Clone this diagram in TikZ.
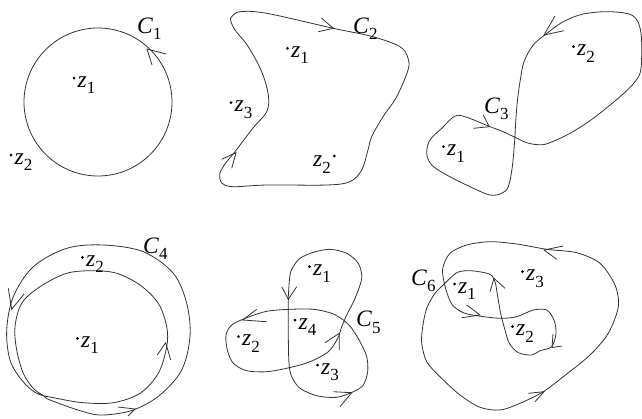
\documentclass[tikz,border=0pt]{standalone}
\usepackage{fontspec}
\setmainfont{Liberation Serif}
\newcommand{\sub}[2]{\textit{#1}\raisebox{-0.28em}{\fontsize{17}{18}\selectfont #2}}
\tikzset{
  curve/.style={draw=black!80, line width=0.8pt, line join=round},
  tipv/.style={draw=black!80, line width=0.8pt},
  lbl/.style={anchor=base west, inner sep=0pt, font=\fontsize{23.5}{25}\selectfont},
  pt/.style={fill=black, draw=none}
}
\newcommand{\arrv}[3]{\draw[tipv] #2 -- #1 -- #3;}
\newcommand{\zpt}[3]{\fill[pt] (#1,#2) circle (1.5);
  \node[lbl] at (#1+3.5,#2+9) {\sub{z}{#3}};}
\begin{document}
\begin{tikzpicture}[x=1pt,y=-1pt]
\useasboundingbox (0,0) rectangle (642,418);
% ---------- Panel 1
\draw[curve] (98,102) circle (74);
\arrv{(147,49)}{(166,54)}{(152,65)}
\node[lbl] (c1) at (137,33) {\sub{C}{1}};
\zpt{74}{78}{1}
\zpt{11}{155}{2}
% ---------- Panel 2
\draw[curve] plot[smooth cycle, tension=0.55] coordinates {
 (231.7,16.7) (240,11.7) (266.7,13.3) (333.3,28.3) (373,36.7) (400,46.7)
 (408,58) (408,70) (396.7,96.7) (383,116.7) (371.7,136.7) (368,150)
 (361.7,170) (350,181.7) (326.7,185) (266.7,185) (233,186.7) (221.7,183)
 (220,173) (226.7,161.7) (235,151.7) (253,128) (266.7,111.7) (268.3,95)
 (261.7,71.7) (248.3,46.7) (235,30) (230.7,20.7)};
\arrv{(333.3,28.3)}{(321.7,18.3)}{(318.3,31.7)}
\arrv{(236,152.7)}{(221.7,159.3)}{(231.7,168.3)}
\node[lbl] (c2) at (353,33) {\sub{C}{2}};
\zpt{287.5}{48.3}{1}
\zpt{231}{102.7}{3}
\node[lbl] (z22) at (313,166.7) {\sub{z}{2}};
\fill[pt] (334.3,156) circle (1.5);
% ---------- Panel 3
\draw[curve] plot[smooth cycle, tension=0.55] coordinates {
 (488.3,126) (503.3,131.7) (515,137.3) (526.7,142.7) (538.3,144.7) (548.3,143.3)
 (570,133.3) (593.3,118.3) (620,96.7) (635,81.7) (641,68.3) (641,33.3)
 (633.3,16) (610,11.7) (583.3,14) (563.3,21.7) (546,34) (533.3,45)
 (524,61.7) (520,81.7) (517.3,101.7) (515.7,121.7) (514.7,140) (512.3,166.7)
 (508.3,186.7) (501.7,193.3) (490,195) (470,186.7) (446.7,175) (431.7,165)
 (426.7,153.3) (430,140) (441.7,128.3) (455,116) (466.7,117.3)};
\arrv{(544,35)}{(555,16)}{(564,30.7)}
\arrv{(489.3,126.7)}{(483.3,115)}{(473.3,128.3)}
\node[lbl] (c3) at (484,113.3) {\sub{C}{3}};
\zpt{573.5}{46.7}{2}
\zpt{443.5}{146.7}{1}
% ---------- Panel 4
\draw[curve] plot[smooth cycle, tension=0.55] coordinates {
 (50,400) (83.3,411.7) (103.3,415) (133.3,410) (160,395) (181.7,370)
 (190,336.7) (186.7,303.3) (173.3,273.3) (143.3,251.7) (103.3,245) (66.7,248.3)
 (33.3,266.7) (13.3,296.7) (6.7,330) (10,360) (21.7,380) (36.7,393.3)
 (56.7,398.3) (83.3,402.7) (113.3,402.7) (140,393.3) (158.3,373.3) (166.7,346.7)
 (166.7,326.7) (158.3,303.3) (140,285) (116.7,273.3) (93.3,270.7) (66.7,273.3)
 (40,286.7) (21.7,303.3) (15,326.7) (16.7,350) (23.3,373.3) (33.3,388.3)
 (44,396)};
\arrv{(11.7,309.3)}{(8.3,288.3)}{(24,294)}
\arrv{(135,409)}{(118,407)}{(128,416)}
\arrv{(165.7,342.7)}{(157.3,355)}{(170.7,360)}
\node[lbl] (c4) at (143,253.3) {\sub{C}{4}};
\zpt{82.5}{257.3}{2}
\zpt{77.5}{338.3}{1}
% ---------- Panel 5
\draw[curve] plot[smooth cycle, tension=0.5] coordinates {
 (290,275) (288.3,296.7) (288.3,310) (288.3,336.7) (289,363.3) (291.7,376.7)
 (300,388.3) (316.7,395.7) (336.7,397.3) (353.3,391.7) (363.3,385) (367.7,371.7)
 (366.7,356.7) (360,341.7) (351.7,328.3) (343.3,320) (331.7,313.3) (313.3,309.3)
 (290,309.3) (266.7,311.3) (246.7,317.7) (231.7,325) (226,335) (227.3,350)
 (233.3,363.3) (246.7,370.7) (266.7,371.7) (289.3,367.7) (310,361.7) (328.3,351.7)
 (337.7,338.3) (341.7,326.7) (346.7,315) (355,298.3) (361.7,278.3) (358.3,263.3)
 (346.7,253.3) (330,249.3) (313.3,252.3) (300,258.3) (293.3,266.7)};
\arrv{(288.3,299.3)}{(281.7,286.7)}{(296.7,286.7)}
\arrv{(242.7,320)}{(256.7,309.3)}{(266.7,321.7)}
\arrv{(339.3,333.3)}{(325,342.7)}{(339.3,350)}
\arrv{(351.7,392.7)}{(333.3,391.7)}{(340,406.7)}
\node[lbl] (c5) at (356,326.7) {\sub{C}{5}};
\zpt{309.5}{266.7}{1}
\zpt{295}{320}{4}
\zpt{238.5}{336.7}{2}
\zpt{317.5}{365}{3}
% ---------- Panel 6
\draw[curve] plot[smooth cycle, tension=0.5] coordinates {
 (546.7,249.3) (516.7,244) (490,241.7) (466.7,245) (450,253.3) (442.7,268.3)
 (444.3,283.3) (448.3,296.7) (453.3,306) (463.3,312.7) (476.7,315.7) (500,318.3)
 (516.7,316.7) (533.3,310) (546.7,310) (554,320) (556,333.3) (551.7,346.7)
 (540,350.7) (531.7,355) (518.3,352.7) (509.3,343.3) (505,330) (501,315)
 (497.7,296.7) (495,281.7) (489.3,274) (470,270.7) (456.7,272.7) (445,283.3)
 (435,293.3) (426.7,308.3) (422.7,326.7) (421.7,343.3) (426.7,361.7) (440,376.7)
 (460,395) (480,407.3) (500,410) (520,403.3) (543.3,391.7) (566.7,374)
 (590,355) (608.3,333.3) (618.3,306.7) (615,285) (600,263.3) (576.7,252.7)};
\arrv{(544,250)}{(563.3,246)}{(556.7,259.3)}
\arrv{(544,391.7)}{(528.3,393.3)}{(535,401.7)}
\arrv{(480,315)}{(466.7,305)}{(461.7,317.7)}
\arrv{(494,278.3)}{(490,291.7)}{(505,288.3)}
\arrv{(552,347.5)}{(553,334)}{(562,346)}
\node[lbl] (c6) at (411,285) {\sub{C}{6}};
\zpt{454.5}{284}{1}
\zpt{522.5}{271.7}{3}
\zpt{512.5}{326.7}{2}
\end{tikzpicture}
\end{document}
